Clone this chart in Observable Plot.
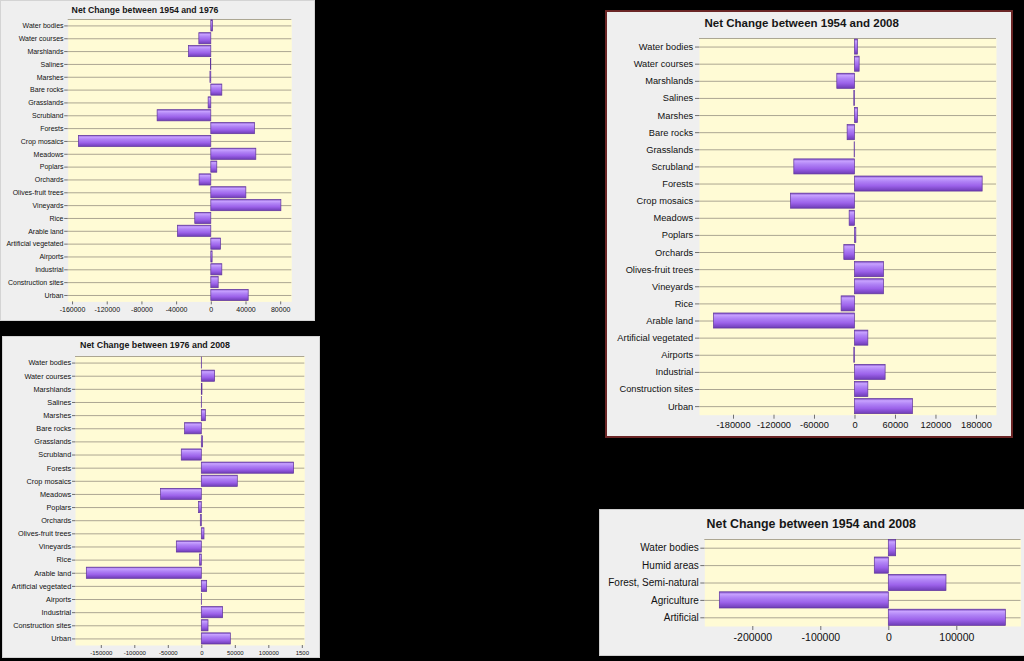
<!DOCTYPE html>
<html>
<head>
<meta charset="utf-8">
<script src="https://cdn.jsdelivr.net/npm/d3@7"></script>
<script src="https://cdn.jsdelivr.net/npm/@observablehq/plot@0.6"></script>
<style>
  html, body { margin: 0; padding: 0; background: #000; }
  #chart { position: relative; width: 1024px; height: 661px; overflow: hidden; background: #000;
           font-family: Arial, "Liberation Sans", sans-serif; }
  .panel { position: absolute; background: #efefef; }
  .title { position: absolute; font-weight: bold; color: #161616; white-space: nowrap;
           transform: translate(-50%, -50%); line-height: 1; }
  .wrap { position: absolute; overflow: hidden; }
  .wrap svg { display: block; background: transparent; }
</style>
</head>
<body>
<svg width="0" height="0" style="position:absolute">
  <defs>
    <linearGradient id="barGrad" x1="0" y1="0" x2="0" y2="1">
      <stop offset="0" stop-color="#7a48c2"/>
      <stop offset="0.14" stop-color="#c8a2ff"/>
      <stop offset="0.35" stop-color="#b184f6"/>
      <stop offset="0.65" stop-color="#9c62ea"/>
      <stop offset="1" stop-color="#6e3cb6"/>
    </linearGradient>
  </defs>
</svg>
<div id="chart"></div>
<script>
// ---------- data ----------
const landCover = ["Water bodies", "Water courses", "Marshlands", "Salines", "Marshes", "Bare rocks",
  "Grasslands", "Scrubland", "Forests", "Crop mosaics", "Meadows", "Poplars", "Orchards",
  "Olives-fruit trees", "Vineyards", "Rice", "Arable land", "Artificial vegetated", "Airports",
  "Industrial", "Construction sites", "Urban"];

const change1954to1976 = [2000, -13800, -25800, -300, -1000, 12700, -3100, -61900, 50400, -152700,
  51900, 6900, -13500, 40400, 80800, -18500, -38500, 11200, 1500, 12700, 8500, 43100];

const change1976to2008 = [500, 19900, 1000, 500, 6000, -24900, 2000, -29900, 137800, 53700,
  -60700, -4000, -1500, 4000, -37300, -2500, -171600, 8000, 500, 31800, 10000, 43300];

const change1954to2008 = [4400, 6900, -26200, -1000, 4400, -10900, -500, -89900, 189200, -94800,
  -7900, 2000, -15800, 43000, 43000, -19800, -208900, 19800, -1000, 45400, 19800, 85900];

const groups = ["Water bodies", "Humid areas", "Forest, Semi-natural", "Agriculture", "Artificial"];
const groupChange1954to2008 = [10800, -20600, 84800, -248500, 172100];

const ticks1 = [-160000, -120000, -80000, -40000, 0, 40000, 80000];
const ticks2 = [-150000, -100000, -50000, 0, 50000, 100000, 150000];
const tickLabels2 = ["-150000", "-100000", "-50000", "0", "50000", "100000", "1500"];
const ticks3 = [-180000, -120000, -60000, 0, 60000, 120000, 180000];
const ticks4 = [-200000, -100000, 0, 100000];

// ---------- drawing ----------
const root = document.getElementById("chart");

function drawPanel(cfg) {
  const {panel, title, area, categories, values, domain, ticks, pad, yAxis, xAxis} = cfg;
  const box = document.createElement("div");
  box.className = "panel";
  Object.assign(box.style, {
    left: panel.left + "px", top: panel.top + "px",
    width: panel.width + "px", height: panel.height + "px",
    boxShadow: `inset 0 0 0 ${panel.borderWidth}px ${panel.borderColor}`
  });
  root.appendChild(box);

  const svgLeft = panel.left + panel.borderWidth;
  const svgTop = area.y0 - 4;
  const svgRight = cfg.clipRight ?? (panel.left + panel.width - panel.borderWidth);
  const svgBottom = panel.top + panel.height - panel.borderWidth;
  const W = svgRight - svgLeft, H = svgBottom - svgTop;

  const rows = categories.map((c, i) => ({category: c, value: values[i]}));
  const step = (area.y1 - area.y0) / categories.length;
  const grid = "#aca692";
  const fmt = cfg.tickLabels ? (d) => cfg.tickLabels[ticks.indexOf(d)] : (d) => String(d);

  const svg = Plot.plot({
    width: W, height: H,
    marginLeft: area.x0 - svgLeft,
    marginRight: svgRight - area.x1,
    marginTop: area.y0 - svgTop,
    marginBottom: svgBottom - area.y1,
    style: {background: "transparent", fontFamily: "Arial, 'Liberation Sans', sans-serif", color: "#111"},
    x: {domain, label: null},
    y: {domain: categories, paddingInner: pad, paddingOuter: pad / 2, round: false, label: null},
    marks: [
      Plot.frame({fill: "#fffbd5", stroke: "none"}),
      Plot.ruleY(categories, {stroke: grid, strokeWidth: 1}),
      Plot.ruleY([categories[0]], {stroke: grid, strokeWidth: 1, dy: -step / 2}),
      Plot.barX(rows, {x: "value", y: "category", fill: "url(#barGrad)", stroke: "#5f349c", strokeWidth: 0.7}),
      Plot.axisY({tickSize: yAxis.tickSize, tickPadding: yAxis.tickPadding, fontSize: yAxis.fontSize,
                  stroke: "#6e6e6e", fill: "#111", label: null}),
      Plot.axisX({ticks, tickFormat: fmt, tickSize: xAxis.tickSize, tickPadding: xAxis.tickPadding,
                  fontSize: xAxis.fontSize, stroke: "#6e6e6e", fill: "#111", label: null})
    ]
  });

  const wrap = document.createElement("div");
  wrap.className = "wrap";
  Object.assign(wrap.style, {left: svgLeft + "px", top: svgTop + "px", width: W + "px", height: H + "px"});
  wrap.appendChild(svg);
  root.appendChild(wrap);

  const t = document.createElement("div");
  t.className = "title";
  t.textContent = title.text;
  Object.assign(t.style, {left: title.cx + "px", top: title.cy + "px", fontSize: title.size + "px"});
  root.appendChild(t);
}

// Panel 1: 1954-1976
drawPanel({
  panel: {left: 0, top: 0, width: 315, height: 321, borderWidth: 1, borderColor: "#d4d4d4"},
  title: {text: "Net Change between 1954 and 1976", cx: 145, cy: 9.5, size: 8.7},
  area: {x0: 67.7, x1: 291.3, y0: 19.3, y1: 301.7},
  categories: landCover, values: change1954to1976,
  domain: [-165000, 92800], ticks: ticks1, pad: 0.13,
  yAxis: {tickSize: 3.5, tickPadding: 1.2, fontSize: 7},
  xAxis: {tickSize: 3, tickPadding: 2, fontSize: 7}
});

// Panel 2: 1976-2008
drawPanel({
  panel: {left: 2, top: 336, width: 318, height: 322, borderWidth: 1, borderColor: "#d4d4d4"},
  title: {text: "Net Change between 1976 and 2008", cx: 155, cy: 345, size: 8.9},
  area: {x0: 75, x1: 304.3, y0: 356, y1: 645},
  categories: landCover, values: change1976to2008,
  domain: [-188500, 153700], ticks: ticks2, tickLabels: tickLabels2, pad: 0.15,
  yAxis: {tickSize: 3, tickPadding: 1.3, fontSize: 7.3},
  xAxis: {tickSize: 3, tickPadding: 2.5, fontSize: 6}
});

// Panel 3: 1954-2008 detailed
drawPanel({
  panel: {left: 605, top: 10, width: 408, height: 428, borderWidth: 2, borderColor: "#6b2626"},
  title: {text: "Net Change between 1954 and 2008", cx: 801.7, cy: 24, size: 11.5},
  area: {x0: 699, x1: 996, y0: 38.3, y1: 415},
  categories: landCover, values: change1954to2008,
  domain: [-230400, 209700], ticks: ticks3, pad: 0.12,
  yAxis: {tickSize: 4, tickPadding: 2.3, fontSize: 9.3},
  xAxis: {tickSize: 4, tickPadding: 2.7, fontSize: 9.3}
});

// Panel 4: 1954-2008 grouped
drawPanel({
  panel: {left: 599, top: 509, width: 430, height: 147, borderWidth: 1, borderColor: "#d0d0d0"},
  title: {text: "Net Change between 1954 and 2008", cx: 811.3, cy: 524, size: 12.4},
  area: {x0: 704.3, x1: 1020.5, y0: 539, y1: 626},
  categories: groups, values: groupChange1954to2008,
  domain: [-270600, 194400], ticks: ticks4, pad: 0.07,
  clipRight: 1024,
  yAxis: {tickSize: 4, tickPadding: 2, fontSize: 10},
  xAxis: {tickSize: 4, tickPadding: 3.5, fontSize: 10.5}
});
</script>
</body>
</html>
